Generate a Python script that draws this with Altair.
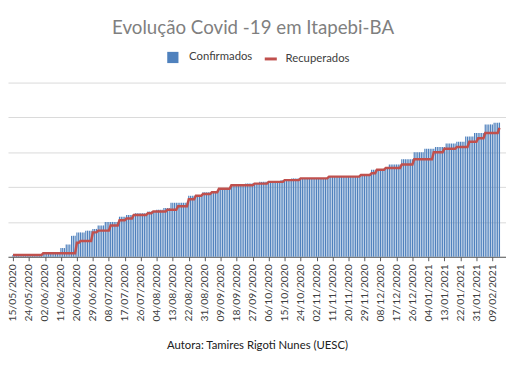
import altair as alt
import pandas as pd
import numpy as np

titulo = "Evolução Covid -19 em Itapebi-BA"
autora = "Autora: Tamires Rigoti Nunes (UESC)"
inicio = "2020-05-15"
n_dias = 275

# step values (value, number of days it lasts)
confirmados_valor = [1, 2, 5, 7, 12, 14, 15, 16, 18, 20, 23, 24, 25, 26, 27, 28, 31, 35, 37, 39,
                     41, 42, 43, 44, 45, 46, 47, 50, 51, 53, 56, 60, 62, 63, 65, 66, 69, 71, 76, 77]
confirmados_dias = [17, 10, 3, 3, 3, 5, 4, 3, 4, 8, 4, 5, 7, 5, 4, 4, 10, 8, 9, 7,
                    8, 8, 12, 6, 21, 18, 6, 8, 2, 7, 7, 6, 6, 6, 6, 5, 5, 6, 5, 4]
recuperados_valor = [1, 2, 8, 9, 14, 15, 18, 21, 22, 24, 25, 26, 27, 29, 33, 35, 36, 37, 39, 41,
                     42, 43, 44, 45, 46, 47, 48, 50, 51, 53, 56, 60, 62, 63, 66, 68, 71, 74]
recuperados_dias = [17, 19, 2, 7, 3, 7, 5, 4, 4, 8, 3, 8, 6, 6, 4, 4, 5, 4, 7, 13,
                    8, 9, 9, 16, 18, 6, 3, 5, 9, 7, 11, 6, 7, 7, 5, 4, 8, 1]

datas = pd.date_range(inicio, periods=n_dias, freq="D")
df = pd.DataFrame({
    "data": datas.strftime("%Y-%m-%d"),
    "Confirmados": np.repeat(confirmados_valor, confirmados_dias),
    "Recuperados": np.repeat(recuperados_valor, recuperados_dias),
    "s1": "Confirmados",
    "s2": "Recuperados",
})

def ms(s):
    return int(pd.Timestamp(s, tz="UTC").value // 10**6)

rotulos = [ms(d) for d in pd.date_range(inicio, periods=31, freq="9D")]
dominio = [ms("2020-05-14T23:00"), ms("2021-02-13T22:00")]

eixo_x = alt.X(
    "data:T",
    scale=alt.Scale(type="utc", domain=dominio),
    axis=alt.Axis(values=rotulos, format="%d/%m/%Y", labelAngle=-90, title=autora,
                  labelFont="Lato", labelFontSize=10.5, labelColor="#404040",
                  titleFont="Lato", titleFontSize=11.5, titleFontWeight="normal",
                  titleColor="#202020", titlePadding=19, domainColor="#595959",
                  tickColor="#595959", tickSize=4, grid=False, labelPadding=3,
                  labelOverlap=False, labelBound=False, labelFlush=False),
)
eixo_y = alt.Axis(values=[0, 20, 40, 60, 80, 100], labels=False, ticks=False, domain=False,
                  title=None, grid=True, gridColor="#d9d9d9")

barras = alt.Chart(df).mark_bar(size=1.2).encode(
    x=eixo_x,
    y=alt.Y("Confirmados:Q", scale=alt.Scale(domain=[0, 100]), axis=eixo_y),
    fill=alt.Fill("s1:N", scale=alt.Scale(domain=["Confirmados"], range=["#4f81bd"]),
                  legend=alt.Legend(title=None, orient="none", legendX=161, legendY=-32,
                                    symbolType="square", symbolSize=130, labelOffset=10,
                                    labelFont="Lato", labelFontSize=11.5, labelColor="#404040")),
)
linha = alt.Chart(df).mark_line(strokeWidth=2.5).encode(
    x=eixo_x,
    y=alt.Y("Recuperados:Q", scale=alt.Scale(domain=[0, 100]), axis=eixo_y),
    stroke=alt.Stroke("s2:N", scale=alt.Scale(domain=["Recuperados"], range=["#c0504d"]),
                      legend=alt.Legend(title=None, orient="none", legendX=259, legendY=-32,
                                        symbolType="stroke", symbolStrokeWidth=3, symbolSize=150,
                                        labelOffset=7,
                                        labelFont="Lato", labelFontSize=11.5, labelColor="#404040")),
)

chart = alt.layer(barras, linha).resolve_scale(fill="independent", stroke="independent").properties(
    width=506, height=177,
    title=alt.TitleParams(titulo, font="Lato", fontSize=19, fontWeight="normal",
                          color="#7f7f7f", anchor="middle", offset=13, dx=-4),
    autosize=alt.AutoSizeParams(type="none"),
    padding={"left": 0, "top": 73, "right": 0, "bottom": 95},
).configure_view(stroke=None)

chart.save("out.html", embed_options={"renderer": "svg", "actions": False})
